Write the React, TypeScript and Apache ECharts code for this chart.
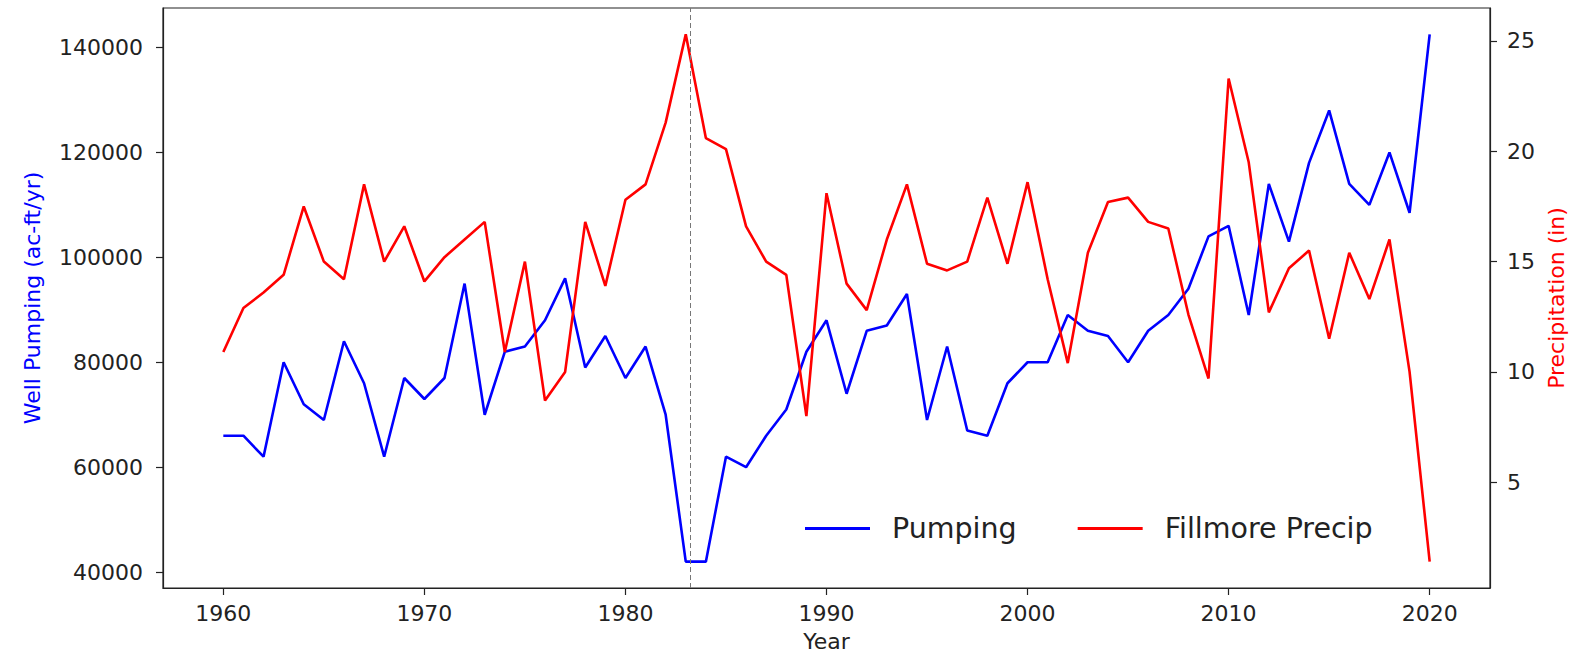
import React, { useEffect, useRef } from "react";
import * as echarts from "echarts";

// Annual series, 1960–2020
const years: number[] = [];
for (let y = 1960; y <= 2020; y++) years.push(y);

const pumping: number[] = [
  66000, 66000, 62000, 80000, 72000, 69000, 84000, 76000, 62000, 77000,
  73000, 77000, 95000, 70000, 82000, 83000, 88000, 96000, 79000, 85000,
  77000, 83000, 70000, 42000, 42000, 62000, 60000, 66000, 71000, 82000,
  88000, 74000, 86000, 87000, 93000, 69000, 83000, 67000, 66000, 76000,
  80000, 80000, 89000, 86000, 85000, 80000, 86000, 89000, 94000, 104000,
  106000, 89000, 114000, 103000, 118000, 128000, 114000, 110000, 120000, 108500,
  142500,
];

const precip: number[] = [
  10.9, 12.9, 13.6, 14.4, 17.5, 15.0, 14.2, 18.5, 15.0, 16.6,
  14.1, 15.2, 16.0, 16.8, 10.9, 15.0, 8.7, 10.0, 16.8, 13.9,
  17.8, 18.5, 21.3, 25.3, 20.6, 20.1, 16.6, 15.0, 14.4, 8.0,
  18.1, 14.0, 12.8, 16.0, 18.5, 14.9, 14.6, 15.0, 17.9, 14.9,
  18.6, 14.2, 10.4, 15.4, 17.7, 17.9, 16.8, 16.5, 12.6, 9.7,
  23.3, 19.5, 12.7, 14.7, 15.5, 11.5, 15.4, 13.3, 16.0, 10.0,
  1.4,
];

const yearTicks = [1960, 1970, 1980, 1990, 2000, 2010, 2020];
const pumpingTicks = [40000, 60000, 80000, 100000, 120000, 140000];
const precipTicks = [5, 10, 15, 20, 25];
const markerYear = 1983.2;

// 5% padding around the data range on each side
function padded(values: number[]) {
  const lo = Math.min(...values);
  const hi = Math.max(...values);
  const m = (hi - lo) * 0.05;
  return { min: lo - m, max: hi + m };
}

const FONT = "DejaVu Sans";
const INK = "#222";
const plain = (v: number) => String(Math.round(v));

export default function App() {
  const ref = useRef<HTMLDivElement>(null);

  useEffect(() => {
    if (!ref.current) return;
    const chart = echarts.init(ref.current, undefined, { renderer: "svg" });
    const xr = padded(years);
    const yl = padded(pumping);
    const yr = padded(precip);

    const tickStyle = { show: true, inside: false, length: 7, lineStyle: { color: INK, width: 1.2 } };

    chart.setOption({
      animation: false,
      backgroundColor: "#fff",
      grid: {
        left: 163,
        right: 80,
        top: 8,
        bottom: 69,
        outerBoundsMode: "none",
        containLabel: false,
        show: true,
        borderColor: INK,
        borderWidth: 1.2,
        backgroundColor: "transparent",
      },
      legend: {
        left: 800,
        top: 509,
        icon: "rect",
        itemWidth: 65,
        itemHeight: 3,
        itemGap: 61,
        textStyle: { fontFamily: FONT, fontSize: 28.5, color: INK, padding: [0, 0, 0, 17] },
        data: ["Pumping", "Fillmore Precip"],
      },
      xAxis: {
        type: "value",
        min: xr.min,
        max: xr.max,
        name: "Year",
        nameLocation: "middle",
        nameGap: 42,
        nameTextStyle: { fontFamily: FONT, fontSize: 22, color: INK },
        axisLine: { show: true, lineStyle: { color: INK, width: 1.2 } },
        axisTick: { ...tickStyle, customValues: yearTicks },
        axisLabel: { fontFamily: FONT, fontSize: 22, color: INK, margin: 14, customValues: yearTicks, formatter: plain },
        splitLine: { show: false },
      },
      yAxis: [
        {
          type: "value",
          position: "left",
          min: yl.min,
          max: yl.max,
          name: "Well Pumping (ac-ft/yr)",
          nameLocation: "middle",
          nameGap: 120,
          nameRotate: 90,
          nameTextStyle: { fontFamily: FONT, fontSize: 22, color: "#0000ff" },
          axisLine: { show: true, lineStyle: { color: INK, width: 1.2 } },
          axisTick: { ...tickStyle, customValues: pumpingTicks },
          axisLabel: { fontFamily: FONT, fontSize: 22, color: INK, margin: 20, customValues: pumpingTicks, formatter: plain },
          splitLine: { show: false },
        },
        {
          type: "value",
          position: "right",
          min: yr.min,
          max: yr.max,
          name: "Precipitation (in)",
          nameLocation: "middle",
          nameGap: 52,
          nameRotate: 90,
          nameTextStyle: { fontFamily: FONT, fontSize: 22, color: "#ff0000" },
          axisLine: { show: true, lineStyle: { color: INK, width: 1.2 } },
          axisTick: { ...tickStyle, customValues: precipTicks },
          axisLabel: { fontFamily: FONT, fontSize: 22, color: INK, margin: 17, customValues: precipTicks, formatter: plain },
          splitLine: { show: false },
        },
      ],
      series: [
        {
          name: "Pumping",
          type: "line",
          yAxisIndex: 0,
          data: years.map((y, i) => [y, pumping[i]]),
          showSymbol: false,
          symbol: "none",
          lineStyle: { color: "#0000ff", width: 2.6 },
          itemStyle: { color: "#0000ff" },
          z: 3,
          markLine: {
            silent: true,
            symbol: ["none", "none"],
            label: { show: false },
            lineStyle: { color: "#777", width: 1, type: [5, 3] },
            data: [{ xAxis: markerYear }],
          },
        },
        {
          name: "Fillmore Precip",
          type: "line",
          yAxisIndex: 1,
          data: years.map((y, i) => [y, precip[i]]),
          showSymbol: false,
          symbol: "none",
          lineStyle: { color: "#ff0000", width: 2.6 },
          itemStyle: { color: "#ff0000" },
          z: 3,
        },
      ],
    });

    return () => chart.dispose();
  }, []);

  return (
    <div
      ref={ref}
      style={{ position: "fixed", left: 0, top: 0, width: 1570, height: 657, background: "#fff" }}
    />
  );
}
